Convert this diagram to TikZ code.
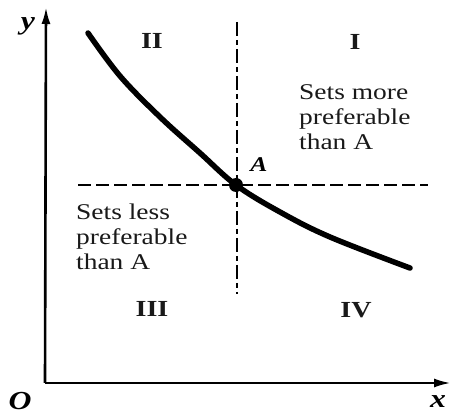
\documentclass[tikz,border=0pt]{standalone}
\usepackage{fontspec}
\setmainfont{Liberation Serif}[FakeStretch=1.22]
\usetikzlibrary{arrows.meta}
\tikzset{
  axis/.style={line width=2.6pt, -{Latex[length=17pt,width=9pt]}},
  curveline/.style={line width=5.5pt, line cap=round},
  hguide/.style={line width=2.4pt, dash pattern=on 13pt off 5pt},
  vguide/.style={line width=2.4pt, dash pattern=on 14pt off 4pt on 5pt off 4pt},
  region/.style={font=\bfseries\fontsize{23}{26}\selectfont, text=black!90, inner sep=0pt},
  axlabel/.style={font=\bfseries\itshape\fontsize{26}{28}\selectfont, inner sep=0pt},
  note/.style={font=\fontsize{22.5}{25}\selectfont, align=left, text=black!90, inner sep=0pt, anchor=north west},
}
\begin{document}
\begin{tikzpicture}[x=1pt,y=-1pt]
\useasboundingbox (0,0) rectangle (451,417);
\coordinate (O) at (45,383);
\coordinate (ytip) at (46,7);
\coordinate (xtip) at (451,383);
\coordinate (A) at (236,185);
\coordinate (hl) at (78,185);
\coordinate (hr) at (428,185);
\coordinate (vt) at (237,22);
\coordinate (vb) at (237,294);
% guides
\draw[hguide] (hl) -- (hr);
\draw[vguide] (vt) -- (vb);
% axes
\draw[axis] (O) -- (ytip);
\draw[axis] (O) -- (xtip);
% curve
\draw[curveline] plot[smooth, tension=0.6] coordinates {(88,33) (120,76) (160,117) (200,153) (A) (280,212) (330,237) (410,268)};
\fill (A) circle (7pt);
% labels
\node[axlabel] (ylab) at (28,26) {y};
\node[axlabel] (olab) at (20,401) {O};
\node[axlabel] (xlab) at (438,402) {x};
\node[axlabel, font=\bfseries\itshape\fontsize{21}{24}\selectfont] (alab) at (259,165) {A};
\node[region] (r2) at (152,41) {II};
\node[region] (r1) at (355,42) {I};
\node[region] (r3) at (152,309) {III};
\node[region] (r4) at (356,310) {IV};
\node[note] (more) at (299,84) {Sets more\\preferable\\than A};
\node[note] (less) at (76,204) {Sets less\\preferable\\than A};
\end{tikzpicture}
\end{document}
